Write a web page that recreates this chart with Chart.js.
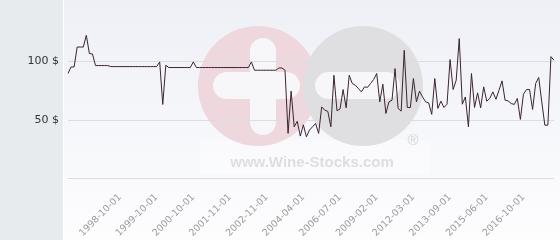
<!DOCTYPE html>
<html>
<head>
<meta charset="utf-8">
<script src="https://cdn.jsdelivr.net/npm/chart.js@4"></script>
<style>
html,body{margin:0;padding:0;background:#fff;}
#wrap{width:560px;height:240px;position:relative;}
</style>
</head>
<body>
<div id="wrap"><canvas id="c" width="560" height="240"></canvas></div>
<script>
const dates = [
"1997-05-01","1997-06-01","1997-07-01","1997-08-01","1997-09-01","1997-10-01","1997-11-01","1997-12-01",
"1998-01-01","1998-02-01","1998-03-01","1998-04-01","1998-05-01","1998-06-01","1998-07-01","1998-08-01","1998-09-01","1998-10-01",
"1998-11-01","1998-12-01","1999-01-01","1999-02-01","1999-03-01","1999-04-01","1999-05-01","1999-06-01","1999-07-01","1999-08-01","1999-09-01","1999-10-01",
"1999-11-01","1999-12-01","2000-01-01","2000-02-01","2000-03-01","2000-04-01","2000-05-01","2000-06-01","2000-07-01","2000-08-01","2000-09-01","2000-10-01",
"2000-11-01","2000-12-01","2001-01-01","2001-02-01","2001-03-01","2001-04-01","2001-05-01","2001-06-01","2001-08-01","2001-09-01","2001-10-01","2001-11-01",
"2001-12-01","2002-01-01","2002-02-01","2002-03-01","2002-04-01","2002-05-01","2002-06-01","2002-07-01","2002-08-01","2002-09-01","2002-10-01","2002-11-01",
"2002-12-01","2003-02-01","2003-03-01","2003-05-01","2003-06-01","2003-08-01","2003-09-01","2003-10-01","2003-12-01","2004-01-01","2004-03-01","2004-04-01",
"2004-06-01","2004-09-01","2004-11-01","2005-01-01","2005-03-01","2005-06-01","2005-08-01","2005-10-01","2005-12-01","2006-03-01","2006-05-01","2006-07-01",
"2006-10-01","2007-01-01","2007-03-01","2007-06-01","2007-09-01","2007-11-01","2008-02-01","2008-05-01","2008-07-01","2008-10-01","2008-12-01","2009-02-01",
"2009-05-01","2009-09-01","2009-12-01","2010-03-01","2010-06-01","2010-09-01","2010-12-01","2011-04-01","2011-07-01","2011-10-01","2012-01-01","2012-03-01",
"2012-04-01","2012-06-01","2012-08-01","2012-09-01","2012-10-01","2012-12-01","2013-01-01","2013-03-01","2013-05-01","2013-06-01","2013-08-01","2013-09-01",
"2013-11-01","2014-01-01","2014-02-01","2014-04-01","2014-06-01","2014-08-01","2014-09-01","2014-11-01","2015-01-01","2015-03-01","2015-05-01","2015-06-01",
"2015-07-01","2015-09-01","2015-10-01","2015-12-01","2016-01-01","2016-03-01","2016-04-01","2016-05-01","2016-07-01","2016-08-01","2016-09-01","2016-10-01",
"2016-11-01","2016-12-01","2017-01-01","2017-02-01","2017-03-01","2017-04-01","2017-05-01","2017-06-01","2017-07-01","2017-08-01"
];

const prices = [
89.8,95.4,95.4,112.4,112.4,112.4,122.4,106.8,106.5,96.6,
96.6,96.6,96.6,96.6,95.7,95.7,95.7,95.7,95.7,95.7,
95.7,95.7,95.7,95.7,95.7,95.7,95.7,95.7,95.7,95.7,
99.7,63.4,96.8,94.9,94.9,94.9,94.9,94.9,94.9,94.9,
94.9,99.7,94.9,94.9,94.9,94.9,94.9,94.9,94.9,94.9,
94.9,94.9,94.9,94.9,94.9,94.9,94.9,94.9,94.9,94.9,
99.7,92.6,92.6,92.6,92.6,92.6,92.6,92.6,92.6,94.5,
94.5,92.6,38.7,74.7,44.3,49,36.4,46,35.8,41.5,
44.3,47.2,38.7,61.3,58.5,57.5,44.3,88.3,58,59.5,
76.1,60.5,88.3,81.3,79.8,77,74.1,78.4,78,81.3,
84.7,89.8,65.6,80.7,55.7,65.6,67,94,60,57.7,
109.6,60.8,60.8,85.5,65.6,74.7,69.8,65.6,64.7,54.9,
85.5,60,66.2,60.8,63.6,101.7,76.1,84.1,119.6,63.6,
69.8,44.3,89.8,60.8,73.3,60.5,78.4,66.2,68.5,74.1,
67.8,75.5,83.5,67,66.4,64.2,63.4,68.5,50.6,72.1,
76.1,76.1,59.1,81.3,86.4,65.6,45.7,45.7,104.2,101.1
];

const tickLabels = ["1998-10-01","1999-10-01","2000-10-01","2001-11-01","2002-11-01","2004-04-01",
"2006-07-01","2009-02-01","2012-03-01","2013-09-01","2015-06-01","2016-10-01"];

const yTicks = [50, 100];

function pill(ctx, x1, y1, x2, y2) {
  const w = x2 - x1, h = y2 - y1;
  const r = Math.min(w, h) / 2;
  ctx.beginPath();
  if (w >= h) {
    ctx.moveTo(x1 + r, y1);
    ctx.lineTo(x2 - r, y1);
    ctx.arc(x2 - r, y1 + r, r, -Math.PI/2, Math.PI/2);
    ctx.lineTo(x1 + r, y2);
    ctx.arc(x1 + r, y2 - r, r, Math.PI/2, Math.PI*1.5);
  } else {
    ctx.moveTo(x1, y1 + r);
    ctx.arc(x1 + r, y1 + r, r, Math.PI, 0);
    ctx.lineTo(x2, y2 - r);
    ctx.arc(x1 + r, y2 - r, r, 0, Math.PI);
  }
  ctx.closePath();
  ctx.fill();
}

const bgPlugin = {
  id: 'bg',
  beforeDraw(chart) {
    const ctx = chart.ctx;
    const W = chart.width, H = chart.height;
    ctx.save();
    ctx.fillStyle = '#e7ebee';
    ctx.fillRect(0, 0, 63, H);
    ctx.fillStyle = '#ffffff';
    ctx.fillRect(63, 0, 1, H);
    const g = ctx.createLinearGradient(0, 0, 0, H);
    g.addColorStop(0, '#eef0f6');
    g.addColorStop(1, '#fdfdfe');
    ctx.fillStyle = g;
    ctx.fillRect(64, 0, W - 64, H);

    // watermark
    ctx.fillStyle = 'rgba(255,255,255,0.35)';
    ctx.fillRect(200, 140, 230, 34);
    ctx.fillStyle = '#eed7dd';
    ctx.beginPath(); ctx.arc(258, 86, 60, 0, Math.PI*2); ctx.fill();
    ctx.fillStyle = '#dfdfe1';
    ctx.beginPath(); ctx.arc(363, 86, 60, 0, Math.PI*2); ctx.fill();
    ctx.fillStyle = '#f7f7fa';
    pill(ctx, 250, 38, 276, 135);
    pill(ctx, 213, 72, 300, 99);
    pill(ctx, 315, 72, 400, 99);
    ctx.fillStyle = '#dedee2';
    ctx.font = 'bold 15px "Liberation Sans", Arial, sans-serif';
    ctx.textAlign = 'center';
    ctx.textBaseline = 'alphabetic';
    ctx.fillText('www.Wine-Stocks.com', 312, 167);
    ctx.font = '15px "Liberation Sans", Arial, sans-serif';
    ctx.fillStyle = '#d4d4d8';
    ctx.fillText('\u00AE', 413, 145);
    ctx.restore();
  }
};

new Chart(document.getElementById('c'), {
  type: 'line',
  data: {
    labels: dates,
    datasets: [{
      data: prices,
      borderColor: '#3a2430',
      borderWidth: 1,
      pointRadius: 0,
      tension: 0,
      fill: false
    }]
  },
  options: {
    responsive: false,
    animation: false,
    devicePixelRatio: 1,
    layout: { padding: { top: 3, right: 6, left: 0, bottom: 0 } },
    plugins: { legend: { display: false }, tooltip: { enabled: false } },
    scales: {
      x: {
        type: 'category',
        offset: false,
        grid: { display: false },
        border: { display: false },
        ticks: {
          autoSkip: false,
          minRotation: 45,
          maxRotation: 45,
          color: '#9a9a9a',
          padding: 5,
          font: { size: 9.5, family: '"DejaVu Sans", sans-serif' },
          callback(v, i) { const l = dates[i]; return tickLabels.includes(l) ? l : ''; }
        },
        afterFit(s) { s.height = 61.3; s.paddingLeft = 0; s.paddingRight = 0; }
      },
      y: {
        min: 0,
        max: 150,
        border: { display: false },
        grid: {
          drawTicks: false,
          color: ctx => (ctx.tick && ctx.tick.value === 150) ? 'rgba(0,0,0,0)' : '#dcdde0',
          lineWidth: 1
        },
        ticks: {
          stepSize: 50,
          color: '#333333',
          padding: 9,
          font: { size: 11, family: '"DejaVu Sans", sans-serif' },
          callback: v => yTicks.includes(v) ? v + ' $' : ''
        },
        afterFit(s) { s.width = 68; s.paddingTop = 0; s.paddingBottom = 0; }
      }
    }
  },
  plugins: [bgPlugin]
});
</script>
</body>
</html>
